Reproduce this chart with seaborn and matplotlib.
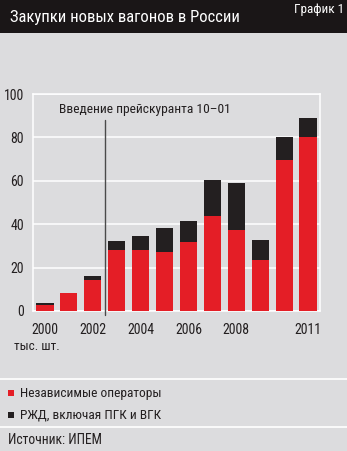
import matplotlib
matplotlib.use("Agg")
import matplotlib.pyplot as plt
from matplotlib.patches import Rectangle
from matplotlib.lines import Line2D
import seaborn as sns
import numpy as np
import pandas as pd

# ---- data ----
years = ["2000", "2001", "2002", "2003", "2004", "2005", "2006", "2007", "2008", "2009", "2010", "2011"]
independent = [2.6, 8.5, 14.4, 27.9, 28.0, 27.4, 31.8, 43.7, 37.1, 23.6, 69.4, 80.0]
rzd = [1.0, 0.0, 1.5, 4.4, 6.6, 10.8, 9.7, 16.7, 22.1, 9.1, 10.6, 9.0]
xtick_labels = ["2000", "", "2002", "", "2004", "", "2006", "", "2008", "", "", "2011"]
ytick_values = [0, 20, 40, 60, 80, 100]
title = "Закупки новых вагонов в России"
chart_no = "График 1"
annotation = "Введение прейскуранта 10–01"
unit = "тыс. шт."
legend_labels = ["Независимые операторы", "РЖД, включая ПГК и ВГК"]
source = "Источник: ИПЕМ"

df = pd.DataFrame({"year": years, "independent": independent, "rzd": rzd})
df["total"] = df["independent"] + df["rzd"]

RED = "#e41e26"
BLACK = "#231f20"
BG = "#dcdcde"
TXT = "#231f20"

sns.set_theme(style="white")
plt.rcParams["font.family"] = ["Roboto Condensed", "DejaVu Sans"]

W, H = 347, 451
fig = plt.figure(figsize=(W / 100, H / 100), dpi=100, facecolor=BG)

# title bar
fig.add_artist(Rectangle((0, 1 - 33 / H), 1, 33 / H, transform=fig.transFigure,
                         facecolor="#1a1617", edgecolor="none"))
fig.text(10 / W, 1 - 17.5 / H, title, color="white", fontsize=12, va="center", ha="left")
fig.text(344 / W, 1 - 9.5 / H, chart_no, color="white", fontsize=9.5, va="center", ha="right")

ax = fig.add_axes([33 / W, (H - 311) / H, (320 - 33) / W, (311 - 94) / H])
ax.set_facecolor(BG)

sns.barplot(data=df, x="year", y="total", color=BLACK, saturation=1, width=0.72,
            edgecolor="none", linewidth=0, ax=ax, zorder=3)
sns.barplot(data=df, x="year", y="independent", color=RED, saturation=1, width=0.72,
            edgecolor="none", linewidth=0, ax=ax, zorder=3)

ax.set_xlim(-0.5, len(years) - 0.5)
ax.set_ylim(0, 100)
ax.set_xlabel("")
ax.set_ylabel("")
ax.set_yticks(ytick_values)
ax.set_yticklabels([str(v) for v in ytick_values], fontsize=10, color=TXT)
ax.set_xticks(range(len(years)))
ax.set_xticklabels(xtick_labels, fontsize=10, color=TXT)
ax.set_xticks(np.arange(-0.5, len(years), 1.0), minor=True)
ax.tick_params(axis="x", which="major", length=0, pad=9)
ax.tick_params(axis="x", which="minor", length=4, width=1, color="white", direction="out")
ax.tick_params(axis="y", length=0, pad=6.5)

ax.grid(axis="y", color="white", linewidth=1.1, zorder=0)
ax.set_axisbelow(True)
for side in ["bottom", "right", "top", "left"]:
    ax.spines[side].set_visible(True)
    ax.spines[side].set_color("white")
    ax.spines[side].set_linewidth(1.1)

# policy annotation (between 2002 and 2003)
policy_x = 2.5
ax.plot([policy_x, policy_x], [-2, 88], color="#4a4a4a", linewidth=1, clip_on=False, zorder=4)
ax.text(0.6, 93, annotation, fontsize=9.7, color=TXT, va="center", ha="left")

fig.text(14 / W, 1 - 346 / H, unit, fontsize=9.5, color=TXT, va="center", ha="left")

# separators
for yy in [379, 427]:
    fig.add_artist(Line2D([0, 1], [1 - yy / H] * 2, transform=fig.transFigure,
                          color="white", linewidth=1.2))

# legend
for i, (lab, col) in enumerate(zip(legend_labels, [RED, BLACK])):
    yc = 393 + 22 * i
    fig.add_artist(Rectangle((8 / W, 1 - (yc + 3) / H), 6 / W, 6 / H, transform=fig.transFigure,
                             facecolor=col, edgecolor="none"))
    fig.text(20.5 / W, 1 - yc / H, lab, fontsize=9.6, color=TXT, va="center", ha="left")

fig.text(8 / W, 1 - 440 / H, source, fontsize=9.8, color=TXT, va="center", ha="left")

fig.savefig("out.png", dpi=100, facecolor=BG)
